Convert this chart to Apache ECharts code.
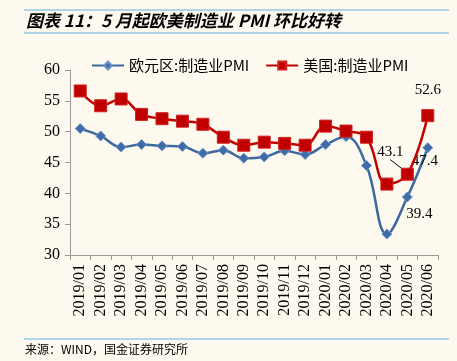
<!DOCTYPE html>
<html><head><meta charset="utf-8">
<script src="https://cdn.jsdelivr.net/npm/echarts@6/dist/echarts.min.js"></script>
<style>html,body{margin:0;padding:0;background:#FEF9EF;}#c{width:457px;height:361px;}</style>
</head><body><div id="c"></div>
<script>
const categories = ['2019/01','2019/02','2019/03','2019/04','2019/05','2019/06','2019/07','2019/08','2019/09','2019/10','2019/11','2019/12','2020/01','2020/02','2020/03','2020/04','2020/05','2020/06'];
const euroPMI = [50.5,49.3,47.5,47.9,47.7,47.6,46.5,47.0,45.7,45.9,46.9,46.3,47.9,49.2,44.5,33.4,39.4,47.4];
const usPMI = [56.6,54.2,55.3,52.8,52.1,51.7,51.2,49.1,47.8,48.3,48.1,47.8,50.9,50.1,49.1,41.5,43.1,52.6];
const yTicks = {min:30, max:60, interval:5};
const seriesNames = ['欧元区:制造业PMI','美国:制造业PMI'];
const titleText = '图表 11：5 月起欧美制造业 PMI 环比好转';
const sourceText = '来源：WIND，国金证券研究所';

const serif = '"Liberation Serif","Times New Roman",serif';
const lblStyle = {fontFamily: serif, fontSize: 15, color: '#000'};

function euroItems(){
  return euroPMI.map((v,i)=>{
    if (i===16) return {value:v, label:{show:true, position:'bottom', distance:4, offset:[12,0], ...lblStyle}};
    if (i===17) return {value:v, label:{show:true, position:'bottom', distance:0, offset:[-3,0], ...lblStyle}};
    return v;
  });
}
function usItems(){
  return usPMI.map((v,i)=>{
    if (i===16) return {value:v, label:{show:true, position:'top', distance:4, ...lblStyle}, labelLine:{show:true}};
    if (i===17) return {value:v, label:{show:true, position:'top', distance:12, ...lblStyle}};
    return v;
  });
}

const chart = echarts.init(document.getElementById('c'), null, {renderer:'canvas'});
chart.setOption({
  backgroundColor: '#FEF9EF',
  animation: false,
  graphic: [
    {type:'line', shape:{x1:24,y1:10,x2:449,y2:10}, style:{stroke:'#5FB3DF', lineWidth:1}},
    {type:'line', shape:{x1:24,y1:33,x2:449,y2:33}, style:{stroke:'#5FB3DF', lineWidth:1}},
    {type:'text', left:26, top:12, style:{text:titleText, font:'italic bold 17px "Noto Sans CJK SC", sans-serif', fill:'#000'}},
    {type:'line', shape:{x1:24,y1:339,x2:449,y2:339}, style:{stroke:'#5FB3DF', lineWidth:1}},
    {type:'text', left:25, top:343, style:{text:sourceText, font:'12px "Noto Sans CJK SC", sans-serif', fill:'#000'}}
  ],
  legend: {
    left: 86, top: 53, itemWidth: 32, itemHeight: 10, itemGap: 16,
    textStyle: {fontFamily: '"Noto Sans CJK SC",' + serif, fontSize: 15, color:'#000'},
    data: seriesNames
  },
  grid: {left:70, right:19, top:70, bottom:106, containLabel:false},
  xAxis: {
    type:'category', data: categories, boundaryGap: true,
    axisLine:{show:true, lineStyle:{color:'#9A9A9A', width:1}},
    axisTick:{show:true, interval:0, length:5, lineStyle:{color:'#9A9A9A'}},
    axisLabel:{interval:0, rotate:90, margin:9, fontFamily:serif, fontSize:16, color:'#000'},
    splitLine:{show:false}
  },
  yAxis: {
    type:'value', min:yTicks.min, max:yTicks.max, interval:yTicks.interval,
    axisLine:{show:true, lineStyle:{color:'#9A9A9A', width:1}},
    axisTick:{show:true, length:5, lineStyle:{color:'#9A9A9A'}},
    axisLabel:{margin:10, fontFamily:serif, fontSize:16, color:'#000'},
    splitLine:{show:false}
  },
  series: [
    {
      name: seriesNames[0], type:'line', data: euroItems(), smooth:0.4,
      symbol:'diamond', symbolSize:10,
      lineStyle:{color:'#3C679F', width:2.5},
      itemStyle:{color:'#3F6CA6', borderColor:'#6E96CC', borderWidth:1},
      label:{show:false}, z:2
    },
    {
      name: seriesNames[1], type:'line', data: usItems(), smooth:0.4,
      symbol:'rect', symbolSize:12,
      lineStyle:{color:'#C00000', width:2.5},
      itemStyle:{color:'#C00000', borderColor:'#D02020', borderWidth:1},
      labelLine:{show:false, lineStyle:{color:'#000', width:1}},
      labelLayout: function(p){ return p.dataIndex===16 ? {dx:-17, dy:-4} : {}; },
      label:{show:false}, z:3
    }
  ]
});
</script></body></html>
